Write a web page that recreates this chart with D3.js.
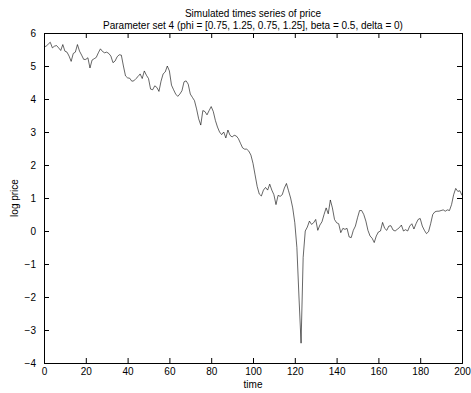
<!DOCTYPE html>
<html><head><meta charset="utf-8">
<script src="https://cdn.jsdelivr.net/npm/d3@7"></script>
<style>body{margin:0;background:#fff}svg{display:block}text{font-family:"Liberation Sans",Arial,sans-serif;fill:#000}</style>
</head><body>
<script>
const titleLines = ["Simulated times series of price", "Parameter set 4 (phi = [0.75, 1.25, 0.75, 1.25], beta = 0.5, delta = 0)"];
const xLabel = "time";
const yLabel = "log price";
const xTicks = [0, 20, 40, 60, 80, 100, 120, 140, 160, 180, 200];
const yTicks = [-4, -3, -2, -1, 0, 1, 2, 3, 4, 5, 6];
const logPrice = [
5.58,5.6,5.66,5.72,5.55,5.6,5.62,5.55,5.47,5.65,
5.45,5.42,5.3,5.14,5.38,5.42,5.65,5.45,5.33,5.2,
5.2,5.25,4.94,5.18,5.22,5.26,5.4,5.52,5.44,5.4,
5.42,5.38,5.3,5.1,5.15,5.28,5.34,5.33,5.0,4.7,
4.64,4.63,4.54,4.55,4.62,4.68,4.76,4.62,4.85,4.72,
4.62,4.3,4.28,4.4,4.35,4.23,4.54,4.76,4.82,5.0,
4.85,4.42,4.28,4.15,4.08,4.15,4.25,4.52,4.55,4.45,
4.15,4.05,3.95,3.7,3.4,3.21,3.65,3.62,3.52,3.65,
3.77,3.62,3.35,3.15,3.0,2.92,3.0,2.82,3.06,2.9,
2.85,2.9,2.88,2.8,2.66,2.52,2.48,2.48,2.42,2.3,
2.05,1.7,1.35,1.12,1.06,1.24,1.32,1.24,1.42,1.24,
1.1,0.8,1.08,1.05,1.1,1.3,1.44,1.22,1.0,0.7,
0.25,-0.5,-2.0,-3.4,-0.8,0.0,0.12,0.3,0.2,0.25,
0.35,0.02,0.18,0.28,0.5,0.7,0.52,0.94,0.7,0.35,
0.25,0.22,-0.05,0.08,0.05,0.08,-0.18,-0.2,0.02,0.15,
0.4,0.62,0.62,0.5,0.3,0.02,-0.15,-0.22,-0.35,-0.15,
-0.03,0.0,0.26,0.08,0.02,0.15,0.16,0.03,0.0,0.05,
0.1,0.18,0.0,0.04,0.0,0.15,0.22,0.06,0.22,0.35,
0.38,0.15,0.02,-0.08,-0.02,0.22,0.5,0.58,0.6,0.6,
0.62,0.64,0.6,0.64,0.62,0.8,1.1,1.29,1.2,1.22,
1.08];

const W = 471, H = 393;
const m = {left: 44, right: 9, top: 33, bottom: 30};
const svg = d3.select("body").append("svg").attr("width", W).attr("height", H);
const x = d3.scaleLinear().domain([0, 200]).range([m.left, W - m.right]);
const y = d3.scaleLinear().domain([-4, 6]).range([H - m.bottom, m.top]);
const fs = "10px";

// line
const line = d3.line().x((d, i) => x(i)).y(d => y(d));
svg.append("path").datum(logPrice).attr("d", line)
  .attr("fill", "none").attr("stroke", "#000").attr("stroke-width", 0.6);

// axes with inward ticks on all four sides
const tl = 5;
const gB = svg.append("g").attr("transform", `translate(0,${y(-4)})`)
  .call(d3.axisBottom(x).tickValues(xTicks).tickSize(-tl).tickPadding(5).tickFormat(d3.format("d")));
const gT = svg.append("g").attr("transform", `translate(0,${y(6)})`)
  .call(d3.axisTop(x).tickValues(xTicks).tickSize(-tl).tickFormat(""));
const gL = svg.append("g").attr("transform", `translate(${x(0)},0)`)
  .call(d3.axisLeft(y).tickValues(yTicks).tickSize(-tl).tickPadding(8).tickFormat(d3.format("d")));
const gR = svg.append("g").attr("transform", `translate(${x(200)},0)`)
  .call(d3.axisRight(y).tickValues(yTicks).tickSize(-tl).tickFormat(""));
[gB, gT, gL, gR].forEach(g => {
  g.select(".domain").attr("stroke", "#000").attr("stroke-width", 1);
  g.selectAll(".tick line").attr("stroke", "#000").attr("stroke-width", 1);
  g.selectAll("text").attr("font-size", fs).attr("font-family", '"Liberation Sans",Arial,sans-serif').attr("fill", "#000");
});

// labels
svg.append("text").attr("x", x(100)).attr("y", 388).attr("text-anchor", "middle")
  .attr("font-size", fs).text(xLabel);
svg.append("text").attr("transform", `translate(18,${y(1)}) rotate(-90)`).attr("text-anchor", "middle")
  .attr("font-size", fs).text(yLabel);
titleLines.forEach((t, i) => {
  svg.append("text").attr("x", x(100)).attr("y", 17 + i * 11.5).attr("text-anchor", "middle")
    .attr("font-size", fs).text(t);
});
</script>
</body></html>
